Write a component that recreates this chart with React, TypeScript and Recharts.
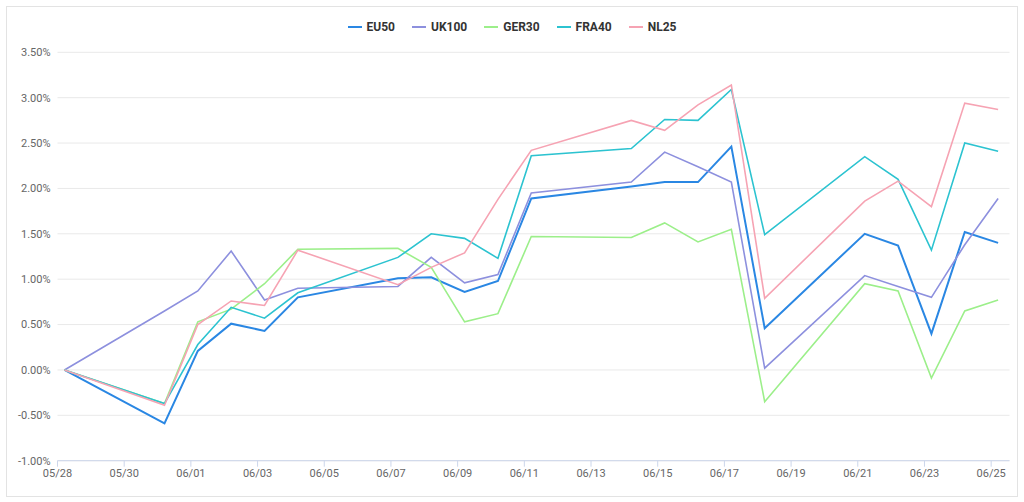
import React from 'react';
import { LineChart, Line, XAxis, YAxis, CartesianGrid, Legend } from 'recharts';

const times = [
  '05/28 05:00', '05/31 05:00', '06/01 05:00', '06/02 05:00', '06/03 05:00', '06/04 05:00',
  '06/07 05:00', '06/08 05:00', '06/09 05:00', '06/10 05:00', '06/11 05:00',
  '06/14 05:00', '06/15 05:00', '06/16 05:00', '06/17 05:00', '06/18 05:00',
  '06/21 05:00', '06/22 05:00', '06/23 05:00', '06/24 05:00', '06/25 05:00',
];

const EU50 = [0, -0.59, 0.21, 0.51, 0.43, 0.8, 1.01, 1.02, 0.86, 0.98, 1.89, 2.02, 2.07, 2.07, 2.46, 0.46, 1.5, 1.37, 0.4, 1.52, 1.4];
const UK100 = [0, 0.65, 0.87, 1.31, 0.77, 0.9, 0.92, 1.24, 0.96, 1.05, 1.95, 2.07, 2.4, 2.24, 2.07, 0.02, 1.04, 0.92, 0.8, 1.38, 1.89];
const GER30 = [0, -0.37, 0.53, 0.67, 0.95, 1.33, 1.34, 1.13, 0.53, 0.62, 1.47, 1.46, 1.62, 1.41, 1.55, -0.35, 0.95, 0.87, -0.09, 0.65, 0.77];
const FRA40 = [0, -0.37, 0.28, 0.69, 0.57, 0.85, 1.24, 1.5, 1.45, 1.23, 2.36, 2.44, 2.76, 2.75, 3.09, 1.49, 2.35, 2.1, 1.32, 2.5, 2.41];
const NL25 = [0, -0.39, 0.5, 0.76, 0.71, 1.32, 0.94, 1.13, 1.29, 1.88, 2.42, 2.75, 2.64, 2.92, 3.14, 0.79, 1.86, 2.08, 1.8, 2.94, 2.87];

const xTickLabels = ['05/28', '05/30', '06/01', '06/03', '06/05', '06/07', '06/09', '06/11', '06/13', '06/15', '06/17', '06/19', '06/21', '06/23', '06/25'];
const yTicks = [-1, -0.5, 0, 0.5, 1, 1.5, 2, 2.5, 3, 3.5];

const seriesNames = ['EU50', 'UK100', 'GER30', 'FRA40', 'NL25'];
const seriesValues = [EU50, UK100, GER30, FRA40, NL25];
const seriesColors = ['#2a87e3', '#8d90de', '#9cef8a', '#2cc3d0', '#f6a3b3'];
const seriesWidths = [2, 1.6, 1.6, 1.6, 1.6];

// convert "MM/DD HH:MM" into days since 05/28 00:00
const toDay = (s: string) => {
  const [md, hm] = s.split(' ');
  const [m, d] = md.split('/').map(Number);
  const [h, mi] = (hm || '00:00').split(':').map(Number);
  const base = m === 5 ? d - 28 : d + 3;
  return base + (h + mi / 60) / 24;
};

const data = times.map((t, i) => {
  const row: Record<string, number> = { x: toDay(t) };
  seriesNames.forEach((n, k) => {
    row[n] = seriesValues[k][i];
  });
  return row;
});

const xTicks = xTickLabels.map((l) => toDay(l));
const labelFor = (v: number) => {
  const idx = xTicks.findIndex((t) => Math.abs(t - v) < 1e-6);
  return idx >= 0 ? xTickLabels[idx] : '';
};

const FONT = 'Roboto, "Noto Sans", sans-serif';

const LegendContent = () => (
  <div style={{ display: 'flex', justifyContent: 'center', alignItems: 'center', fontFamily: FONT }}>
    {seriesNames.map((n, i) => (
      <div key={n} style={{ display: 'flex', alignItems: 'center', marginLeft: i === 0 ? 0 : 17 }}>
        <span style={{ display: 'inline-block', width: 14, height: 2, background: seriesColors[i], marginRight: 5 }} />
        <span style={{ fontSize: 12, fontWeight: 700, color: '#333333', lineHeight: '14px' }}>{n}</span>
      </div>
    ))}
  </div>
);

export default function App() {
  return (
    <div
      style={{
        position: 'absolute',
        left: 6,
        top: 6,
        width: 1012,
        height: 491,
        border: '1px solid #e3e3e3',
        boxSizing: 'border-box',
        background: '#ffffff',
      }}
    >
      <LineChart
        width={1010}
        height={489}
        data={data}
        margin={{ top: 15, right: 7.5, bottom: 5.3, left: 0 }}
        style={{ fontFamily: FONT }}
      >
        <Legend
          verticalAlign="top"
          height={30.3}
          content={<LegendContent />}
          wrapperStyle={{ top: 12.5, left: 0, width: 1010 }}
        />
        <CartesianGrid horizontal vertical={false} stroke="#e9e9e9" strokeWidth={1} />
        <XAxis
          type="number"
          dataKey="x"
          domain={[0, 28.55]}
          ticks={xTicks}
          tickFormatter={labelFor}
          interval={0}
          height={30}
          axisLine={{ stroke: '#ccd6eb' }}
          tickLine={{ stroke: '#ccd6eb' }}
          tickSize={6}
          tickMargin={2}
          tick={{ fontSize: 11, fill: '#666666', fontFamily: FONT }}
          allowDataOverflow
        />
        <YAxis
          type="number"
          domain={[-1, 3.5]}
          ticks={yTicks}
          interval={0}
          width={50.5}
          axisLine={false}
          tickLine={false}
          tickSize={6}
          tickMargin={1}
          tickFormatter={(v: number) => `${v.toFixed(2)}%`}
          tick={{ fontSize: 11, fill: '#666666', fontFamily: FONT }}
        />
        {seriesNames.map((n, i) => (
          <Line
            key={n}
            type="linear"
            dataKey={n}
            stroke={seriesColors[i]}
            strokeWidth={seriesWidths[i]}
            dot={false}
            activeDot={false}
            isAnimationActive={false}
          />
        ))}
      </LineChart>
    </div>
  );
}
